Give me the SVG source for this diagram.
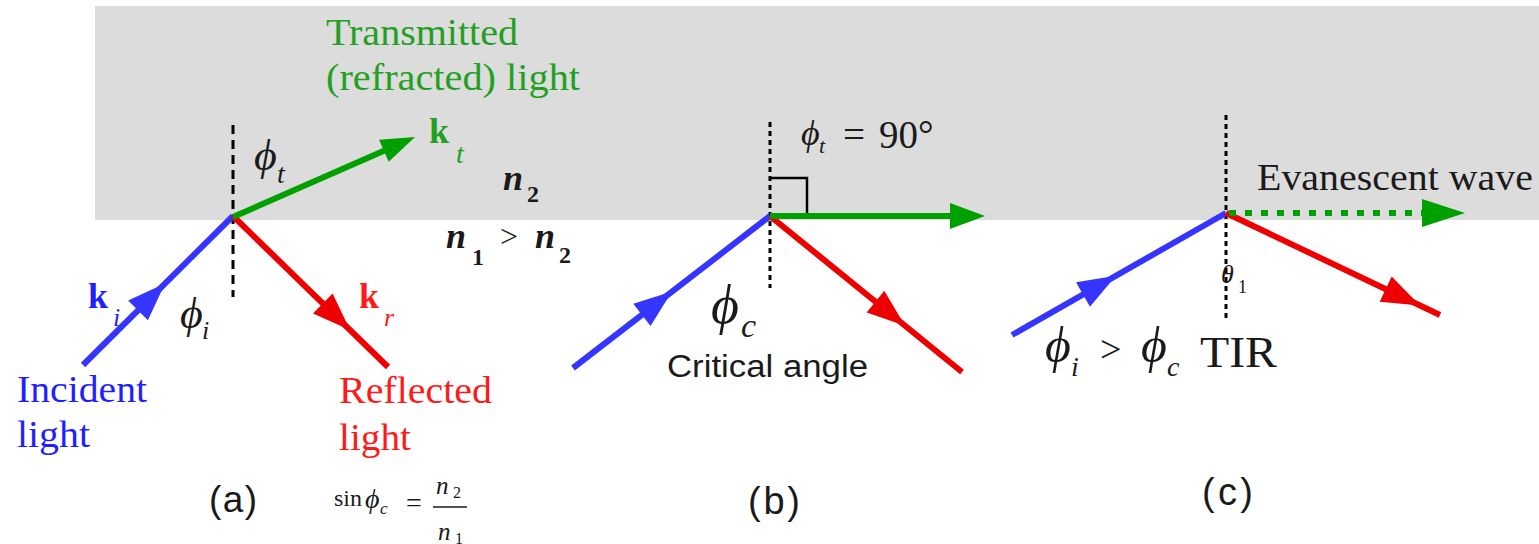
<svg xmlns="http://www.w3.org/2000/svg" width="1539" height="544" viewBox="0 0 1539 544">
<style>
.serif{font-family:"Liberation Serif","Times New Roman",serif}
.sans{font-family:"Liberation Sans",Arial,sans-serif}
.it{font-style:italic}
.bd{font-weight:bold}
.blk{fill:#1a1a1a}
.gtx{fill:#22a022}
.btx{fill:#1f1fff}
.rtx{fill:#ff1a1a}
.ray{fill:none;stroke-width:6;stroke-linecap:butt}
.blue{stroke:#3535ff}
.red{stroke:#ee0000}
.green{stroke:#00a000}
.hb{fill:#3535ff}
.hr{fill:#ee0000}
.hg{fill:#00a000}
.normA{stroke:#000;stroke-width:3;stroke-dasharray:9 6;fill:none}
.normD{stroke:#000;stroke-width:3;stroke-dasharray:5 4;fill:none}
</style>
<rect id="medium-n2" x="95" y="6" width="1444" height="214" fill="#dcdcdc"/>

<g id="connectors">
  <!-- panel a -->
  <line class="normA" x1="233" y1="125" x2="233" y2="297"/>
  <line class="ray blue" x1="83" y1="365" x2="233" y2="216"/>
  <polygon class="hb" points="165,283.5 147.9,320.2 128.1,300.4"/>
  <line class="ray red" x1="233" y1="216" x2="388" y2="367"/>
  <polygon class="hr" points="350,330 313,313.5 332.6,293.5"/>
  <line class="ray green" x1="233" y1="217" x2="388" y2="149"/>
  <polygon class="hg" points="415,137 388.7,161.7 379.1,139.7"/>
  <!-- panel b -->
  <line class="normD" x1="770" y1="122" x2="770" y2="288"/>
  <polyline points="770,178 807,178 807,215" fill="none" stroke="#000" stroke-width="2.5"/>
  <line class="ray blue" x1="573" y1="368" x2="770" y2="216"/>
  <polygon class="hb" points="672,291.6 650.5,325.9 633.3,303.7"/>
  <line class="ray red" x1="770" y1="216" x2="962" y2="372"/>
  <polygon class="hr" points="905,325.7 866.7,312.6 884.3,290.8"/>
  <line class="ray green" x1="770" y1="216" x2="952" y2="216"/>
  <polygon class="hg" points="985,216 950,203 950,229"/>
  <!-- panel c -->
  <line class="normD" x1="1226" y1="115" x2="1226" y2="318"/>
  <line class="ray blue" x1="1012" y1="335" x2="1226" y2="213"/>
  <polygon class="hb" points="1116,275.7 1089.9,306.7 1076.1,282.3"/>
  <line class="ray red" x1="1226" y1="213" x2="1440" y2="315"/>
  <polygon class="hr" points="1420,305.5 1379.7,301.8 1391.7,276.6"/>
  <line class="ray green" x1="1229" y1="213" x2="1424" y2="213" stroke-dasharray="7 9"/>
  <polygon class="hg" points="1465,213 1422,199 1422,227"/>
</g>

<g id="panel-a-labels">
  <text class="serif gtx" x="326" y="45" font-size="38" textLength="192" lengthAdjust="spacingAndGlyphs">Transmitted</text>
  <text class="serif gtx" x="326" y="90" font-size="38" textLength="254" lengthAdjust="spacingAndGlyphs">(refracted) light</text>
  <text class="serif it blk" x="254" y="170" font-size="44">ϕ</text>
  <text class="serif it blk" x="277" y="183" font-size="28">t</text>
  <text class="serif bd gtx" x="429" y="143" font-size="36">k</text>
  <text class="serif it gtx" x="456" y="163" font-size="28">t</text>
  <text class="serif bd it blk" x="503" y="190" font-size="36">n</text>
  <text class="serif bd blk" x="527" y="202" font-size="24">2</text>
  <text class="serif bd it blk" x="446" y="248" font-size="36">n</text>
  <text class="serif bd blk" x="472" y="265" font-size="24">1</text>
  <text class="serif blk" x="500" y="247" font-size="32">&gt;</text>
  <text class="serif bd it blk" x="535" y="248" font-size="36">n</text>
  <text class="serif bd blk" x="559" y="263" font-size="24">2</text>
  <text class="serif bd btx" x="88" y="308" font-size="36">k</text>
  <text class="serif it btx" x="113" y="326" font-size="26">i</text>
  <text class="serif it blk" x="180" y="328" font-size="44">ϕ</text>
  <text class="serif it blk" x="202" y="339" font-size="26">i</text>
  <text class="serif bd rtx" x="359" y="308" font-size="36">k</text>
  <text class="serif it rtx" x="384" y="326" font-size="26">r</text>
  <text class="serif btx" x="17" y="402" font-size="37" textLength="130" lengthAdjust="spacingAndGlyphs">Incident</text>
  <text class="serif btx" x="17" y="447" font-size="37" textLength="73" lengthAdjust="spacingAndGlyphs">light</text>
  <text class="serif rtx" x="339" y="403" font-size="37" textLength="153" lengthAdjust="spacingAndGlyphs">Reflected</text>
  <text class="serif rtx" x="339" y="450" font-size="37" textLength="72" lengthAdjust="spacingAndGlyphs">light</text>
  <text class="sans blk" x="209" y="512" font-size="37" textLength="48">(a)</text>
  <g id="formula">
    <text class="serif blk" x="334" y="506" font-size="24">sin</text>
    <text class="serif it blk" x="365" y="508" font-size="28">ϕ</text>
    <text class="serif it blk" x="380" y="514" font-size="17">c</text>
    <text class="serif blk" x="406" y="512" font-size="28">=</text>
    <line x1="433" y1="507" x2="467" y2="507" stroke="#1a1a1a" stroke-width="1.5"/>
    <text class="serif it blk" x="436" y="494" font-size="25">n</text>
    <text class="serif blk" x="453" y="498" font-size="16">2</text>
    <text class="serif it blk" x="438" y="540" font-size="25">n</text>
    <text class="serif blk" x="455" y="544" font-size="16">1</text>
  </g>
</g>

<g id="panel-b-labels">
  <text class="serif it blk" x="801" y="145" font-size="36">ϕ</text>
  <text class="serif it blk" x="819" y="153" font-size="22">t</text>
  <text class="serif blk" x="843" y="148" font-size="39">=</text>
  <text class="serif blk" x="879" y="148" font-size="39">90°</text>
  <text class="serif it blk" x="711" y="323" font-size="54">ϕ</text>
  <text class="serif it blk" x="741" y="337" font-size="34">c</text>
  <text class="sans blk" x="667" y="377" font-size="31" textLength="201" lengthAdjust="spacingAndGlyphs">Critical angle</text>
  <text class="sans blk" x="748" y="514" font-size="38" textLength="52">(b)</text>
</g>

<g id="panel-c-labels">
  <text class="serif blk" x="1257" y="190" font-size="37" textLength="276" lengthAdjust="spacingAndGlyphs">Evanescent wave</text>
  <text class="serif it blk" x="1221" y="283" font-size="26">θ</text>
  <text class="serif blk" x="1238" y="293" font-size="18">1</text>
  <text class="serif it blk" x="1045" y="362" font-size="50">ϕ</text>
  <text class="serif it blk" x="1071" y="376" font-size="28">i</text>
  <text class="serif blk" x="1100" y="362" font-size="38">&gt;</text>
  <text class="serif it blk" x="1141" y="362" font-size="50">ϕ</text>
  <text class="serif it blk" x="1167" y="376" font-size="28">c</text>
  <text class="serif blk" x="1200" y="367" font-size="44" textLength="77" lengthAdjust="spacingAndGlyphs">TIR</text>
  <text class="sans blk" x="1202" y="505" font-size="38" textLength="51">(c)</text>
</g>
</svg>
